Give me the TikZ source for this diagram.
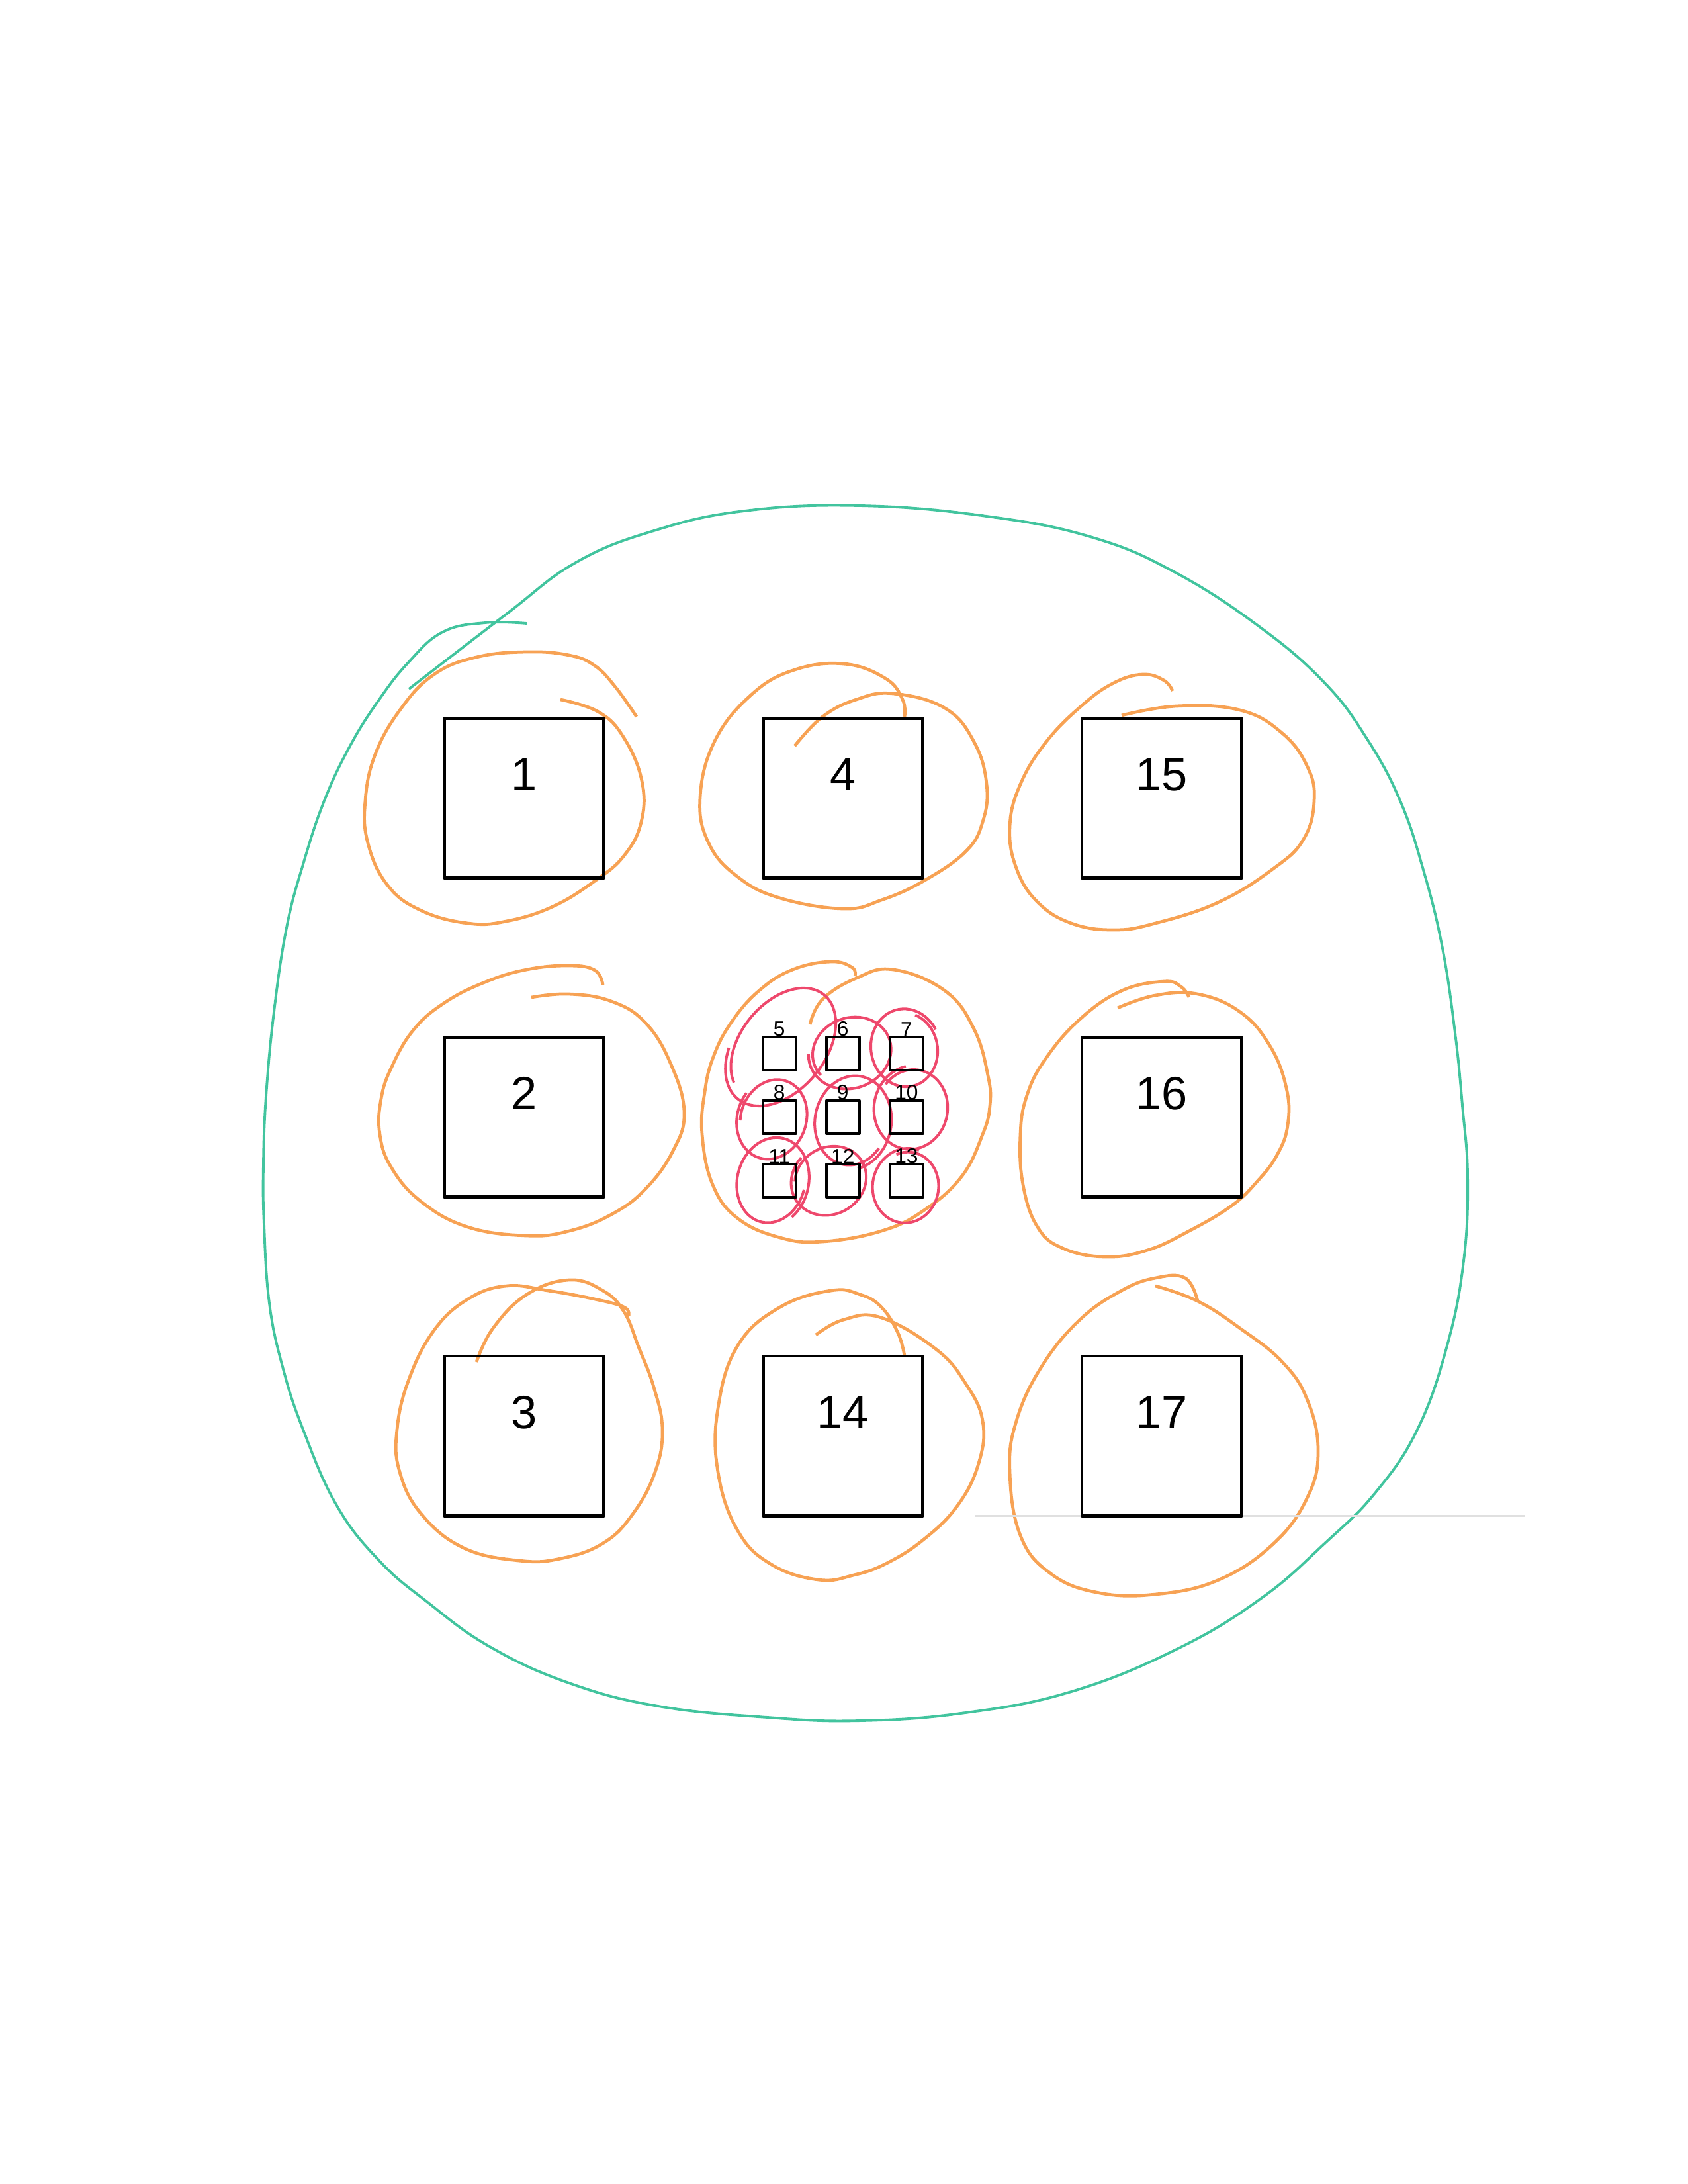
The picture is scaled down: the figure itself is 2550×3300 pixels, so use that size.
\documentclass[tikz,border=0pt]{standalone}
\usepackage{fontspec}
\setmainfont{Liberation Sans}
\usetikzlibrary{positioning,backgrounds}
\definecolor{penGreen}{RGB}{66,196,158}
\definecolor{penOrange}{RGB}{247,162,84}
\definecolor{penRed}{RGB}{238,72,108}
\newcommand{\redloop}[6]{\draw[redpen,shift={(#1)},shift={(#2)},rotate=#5] plot[smooth,domain=0:400,samples=50,variable=\t] ({#3*(1+0.12*\t/400)*cos(\t+#6)},{#4*(1+0.12*\t/400)*sin(\t+#6)});}

\begin{document}
\begin{tikzpicture}[x=0.01cm,y=-0.01cm,line join=round,line cap=round,node distance=2.405cm,
  bigbox/.style={draw,line width=1.4pt,inner sep=0pt,outer sep=0pt,minimum width=2.41cm,minimum height=2.41cm,text height=1.09cm,text depth=1.32cm,font=\fontsize{20}{24}\selectfont},
  smallbox/.style={draw,line width=1pt,inner sep=0pt,outer sep=0pt,minimum size=0.5cm,label distance=0.3mm},
  every label/.style={inner sep=0pt,font=\fontsize{9}{10}\selectfont},
  orangepen/.style={draw=penOrange,line width=1.35pt},
  greenpen/.style={draw=penGreen,line width=1.1pt},
  redpen/.style={draw=penRed,line width=1.15pt},
  ghost/.style={draw=black!12,line width=0.8pt}]
\useasboundingbox (0,0) rectangle (2550,3300);
\node[bigbox] (b1) at (792,1206) {1};
\node[bigbox,right=of b1] (b4) {4};
\node[bigbox,right=of b4] (b15) {15};
\node[bigbox,below=of b1] (b2) {2};
\node[bigbox,below=of b15] (b16) {16};
\node[bigbox,below=of b2] (b3) {3};
\node[bigbox,right=of b3] (b14) {14};
\node[bigbox,right=of b14] (b17) {17};
\node[smallbox,label=above:9] (s9) at (b4 |- b2) {};
\node[smallbox,label=above:6,above=0.46cm of s9] (s6) {};
\node[smallbox,label=above:5,left=0.46cm of s6] (s5) {};
\node[smallbox,label=above:7,right=0.46cm of s6] (s7) {};
\node[smallbox,label=above:8,left=0.46cm of s9] (s8) {};
\node[smallbox,label=above:10,right=0.46cm of s9] (s10) {};
\node[smallbox,label=above:12,below=0.46cm of s9] (s12) {};
\node[smallbox,label=above:11,left=0.46cm of s12] (s11) {};
\node[smallbox,label=above:13,right=0.46cm of s12] (s13) {};
\begin{scope}[on background layer]
\draw[greenpen] plot[smooth,tension=0.7] coordinates {(796,942) (733,941) (669,955) (618,1000) (573,1057) (529,1127) (490,1210) (458,1306) (433,1402) (414,1529) (402,1657) (398,1760) (399,1850) (407,1969) (427,2065) (458,2160) (509,2275) (573,2358) (645,2420) (740,2488) (860,2543) (995,2578) (1160,2595) (1300,2600) (1459,2588) (1619,2556) (1778,2492) (1906,2415) (2002,2332) (2078,2256) (2142,2160) (2187,2033) (2212,1905) (2218,1778) (2210,1670) (2199,1561) (2180,1433) (2152,1318) (2116,1210) (2065,1115) (2002,1032) (1906,949) (1778,866) (1651,812) (1491,780) (1300,764) (1125,772) (988,802) (870,850) (765,928) (618,1041)};
\draw[orangepen] plot[smooth,tension=0.7] coordinates {(847,1057) (905,1076) (943,1115) (970,1180) (969,1242) (943,1293) (899,1331) (835,1370) (765,1392) (707,1395) (637,1376) (586,1338) (556,1274) (552,1210) (567,1140) (605,1072) (656,1019) (720,993) (796,985) (860,990) (899,1006) (930,1038) (962,1083)};
\draw[orangepen] plot[smooth,tension=0.7] coordinates {(1201,1127) (1243,1083) (1294,1057) (1350,1048) (1428,1070) (1472,1121) (1491,1185) (1485,1242) (1459,1287) (1396,1331) (1332,1360) (1275,1373) (1179,1357) (1115,1325) (1071,1274) (1058,1205) (1080,1120) (1134,1051) (1198,1013) (1275,1003) (1338,1025) (1364,1057) (1367,1083)};
\draw[orangepen] plot[smooth,tension=0.7] coordinates {(1695,1081) (1778,1067) (1874,1073) (1938,1108) (1976,1159) (1986,1210) (1970,1268) (1925,1312) (1842,1363) (1746,1395) (1683,1405) (1619,1395) (1568,1363) (1536,1312) (1526,1249) (1542,1185) (1581,1121) (1635,1066) (1683,1032) (1727,1019) (1759,1028) (1772,1044)};
\draw[orangepen] plot[smooth,tension=0.7] coordinates {(803,1507) (860,1502) (924,1513) (975,1545) (1013,1606) (1034,1680) (1017,1739) (975,1797) (924,1835) (860,1860) (796,1867) (707,1854) (637,1816) (592,1765) (574,1714) (576,1660) (592,1612) (625,1556) (672,1515) (733,1484) (796,1465) (860,1459) (899,1466) (911,1488)};
\draw[orangepen] plot[smooth,tension=0.7] coordinates {(1224,1548) (1243,1510) (1294,1478) (1350,1465) (1428,1497) (1472,1555) (1493,1625) (1496,1670) (1485,1714) (1453,1778) (1396,1829) (1332,1860) (1243,1876) (1179,1870) (1115,1841) (1077,1790) (1061,1714) (1065,1650) (1078,1597) (1105,1545) (1147,1497) (1198,1465) (1256,1453) (1288,1462) (1292,1475)};
\draw[orangepen] plot[smooth,tension=0.7] coordinates {(1689,1523) (1746,1504) (1810,1502) (1874,1529) (1919,1580) (1944,1644) (1946,1700) (1930,1745) (1900,1785) (1861,1822) (1797,1860) (1734,1889) (1670,1899) (1606,1886) (1568,1854) (1546,1790) (1542,1714) (1552,1655) (1580,1600) (1632,1540) (1695,1497) (1759,1483) (1785,1491) (1797,1507)};
\draw[orangepen] plot[smooth,tension=0.7] coordinates {(720,2058) (745,2007) (796,1956) (860,1934) (911,1950) (943,1982) (965,2035) (988,2096) (1001,2160) (990,2224) (956,2288) (911,2332) (847,2355) (784,2358) (701,2339) (637,2288) (604,2224) (600,2160) (618,2084) (656,2010) (707,1963) (765,1943) (828,1950) (899,1963) (943,1975) (950,1988)};
\draw[orangepen] plot[smooth,tension=0.7] coordinates {(1233,2017) (1275,1994) (1332,1991) (1415,2039) (1459,2090) (1485,2147) (1479,2211) (1447,2275) (1396,2326) (1340,2362) (1290,2380) (1237,2387) (1166,2364) (1115,2313) (1085,2224) (1085,2128) (1115,2033) (1179,1975) (1256,1950) (1300,1956) (1332,1975) (1357,2014) (1367,2049)};
\draw[orangepen] plot[smooth,tension=0.7] coordinates {(1746,1943) (1810,1966) (1874,2007) (1938,2058) (1976,2116) (1992,2192) (1976,2262) (1925,2332) (1842,2387) (1746,2409) (1657,2406) (1587,2377) (1542,2320) (1526,2224) (1536,2147) (1574,2065) (1632,1994) (1695,1950) (1746,1931) (1791,1931) (1810,1966)};
\redloop{s5}{4,-12}{95}{62}{51}{200}
\redloop{s6}{12,-2}{58}{50}{20}{160}
\redloop{s7}{-2,-7}{55}{48}{100}{30}
\redloop{s8}{-10,2}{58}{48}{70}{250}
\redloop{s9}{14,7}{65}{54}{80}{120}
\redloop{s10}{8,-13}{58}{52}{80}{300}
\redloop{s11}{-11,1}{62}{50}{75}{90}
\redloop{s12}{-20,-1}{54}{48}{30}{210}
\redloop{s13}{0,9}{52}{47}{80}{330}
\draw[ghost] (b14.south east) ++(80,0) -- ++(830,0);
\end{scope}
\end{tikzpicture}
\end{document}
